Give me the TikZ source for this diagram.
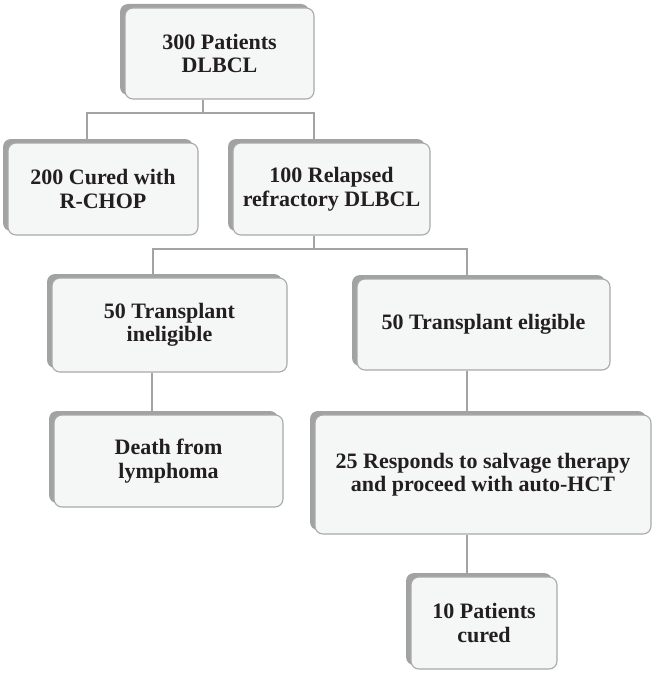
\documentclass[tikz,border=0pt]{standalone}
\usepackage{fontspec}
\setmainfont{LiberationSerif}[Extension=.ttf, UprightFont=*-Regular, BoldFont=*-Bold]
\usepackage{xcolor}
\usepackage{tikz}
\usetikzlibrary{shadows,calc}

\definecolor{boxfill}{HTML}{F5F6F6}
\definecolor{boxline}{HTML}{A8A9AA}
\definecolor{boxshade}{HTML}{A2A2A2}
\definecolor{linkgray}{HTML}{A3A3A3}
\definecolor{txt}{HTML}{231F20}

\begin{document}
\begin{tikzpicture}[
    x=1pt, y=-1pt,
    box/.style={draw=boxline, line width=1.1pt, fill=boxfill, rounded corners=8pt, inner sep=0pt, align=center,
        text=txt, font=\rmfamily\fontsize{22}{23.5}\selectfont\bfseries,
        general shadow={fill=boxshade, shadow xshift=-5pt, shadow yshift=4pt}},
    link/.style={draw=linkgray, line width=1.4pt}
]
    \useasboundingbox (0,0) rectangle (655,674);

    % Top of the tree
    \node[box, minimum width=189pt, minimum height=91pt] (patients) at (219.5,53.5) {300 Patients\\DLBCL};

    % First split
    \node[box, minimum width=190pt, minimum height=92pt] (cured) at (103,189) {200 Cured with\\R-CHOP};
    \node[box, minimum width=197pt, minimum height=92pt] (relapsed) at (331.5,189) {100 Relapsed\\refractory DLBCL};

    % Second split
    \node[box, minimum width=235pt, minimum height=94pt] (inelig) at (169.5,325) {50 Transplant\\ineligible};
    \node[box, minimum width=253pt, minimum height=91pt] (elig) at (483.5,324.5) {50 Transplant eligible};

    % Outcomes
    \node[box, minimum width=229pt, minimum height=92pt] (death) at (168.5,461) {Death from\\lymphoma};
    \node[box, minimum width=336pt, minimum height=119pt] (salvage) at (483,474.5) {25 Responds to salvage therapy\\and proceed with auto-HCT};
    \node[box, minimum width=146pt, minimum height=92pt] (final) at (484,623) {10 Patients\\cured};

    % Bus junctions
    \coordinate (busA) at (203,113);
    \coordinate (busB) at (314,249);

    % Connectors
    \draw[link] ([xshift=-16.5pt]patients.south) -- (busA);
    \draw[link] ([xshift=-16pt]cured.north) |- (busA) -| ([xshift=-17.5pt]relapsed.north);
    \draw[link] ([xshift=-17.5pt]relapsed.south) -- (busB);
    \draw[link] ([xshift=-16.5pt]inelig.north) |- (busB) -| ([xshift=-16.5pt]elig.north);
    \draw[link] ([xshift=-17.5pt]inelig.south) -- ([xshift=-17.5pt]inelig.south |- death.north);
    \draw[link] ([xshift=-16.5pt]elig.south) -- ([xshift=-16.5pt]elig.south |- salvage.north);
    \draw[link] ([xshift=-16pt]salvage.south) -- ([xshift=-16pt]salvage.south |- final.north);
\end{tikzpicture}
\end{document}
